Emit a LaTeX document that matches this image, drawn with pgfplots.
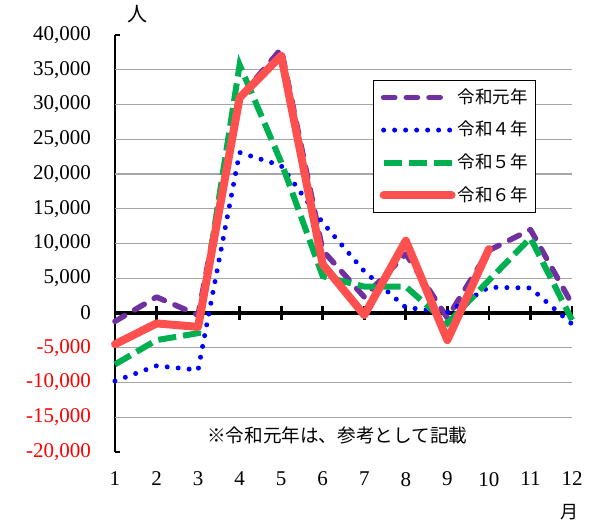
\documentclass[border=0pt]{standalone}
\usepackage{pgfplots}
\pgfplotsset{compat=1.18}
\usepackage{fontspec}
\setmainfont{Liberation Serif}
\newfontfamily\jp{Noto Sans CJK JP}
\definecolor{cpurple}{HTML}{7030A0}
\definecolor{cblue}{HTML}{0000FF}
\definecolor{cgreen}{HTML}{00B050}
\definecolor{cred}{HTML}{FF5050}
\definecolor{cgrid}{HTML}{A6A6A6}
\begin{document}
\begin{tikzpicture}
\path[use as bounding box] (-57.5pt,-38pt) rectangle (242.5pt,226pt);
\begin{axis}[
  at={(0,0)}, anchor=south west,
  scale only axis, width=228.5pt, height=208.5pt,
  xmin=1, xmax=12, ymin=-20000, ymax=40000,
  clip=false, no markers,
  scaled y ticks=false, scaled x ticks=false,
  axis lines*=left,
  axis line style={-, line width=0.6pt},
  x axis line style={draw=none},
  xtick={1,2,...,12},
  xticklabels={1,2,3,4,5,6,7,8,9,10,11,12},
  xtick style={draw=none},
  x tick label style={yshift=-6.5pt},
  ytick={-20000,-15000,-10000,-5000,0,5000,10000,15000,20000,25000,30000,35000,40000},
  yticklabels={\textcolor{red}{-20,000},\textcolor{red}{-15,000},\textcolor{red}{-10,000},\textcolor{red}{-5,000},0,{5,000},{10,000},{15,000},{20,000},{25,000},{30,000},{35,000},{40,000}},
  ytick align=inside,
  major tick length=2.5pt,
  ytick style={line width=0.6pt, black},
  y tick label style={xshift=-8.5pt},
  tick label style={font=\fontsize{10.5}{12}\selectfont},
  extra y ticks={-15000,-10000,-5000,5000,10000,15000,20000,25000,30000,35000},
  extra y tick labels={},
  extra y tick style={grid=major, major tick length=0pt},
  major grid style={cgrid, line width=0.6pt},
  legend cell align=left,
  legend style={at={(rel axis cs:0.5646,0.892)}, anchor=north west,
    draw=black, line width=0.6pt, inner sep=3pt, row sep=5.4pt,
    font=\jp\fontsize{8.75}{10}\selectfont,
    nodes={inner sep=1pt}},
  legend image code/.code={\draw[#1] (0pt,0pt) -- (34pt,0pt);},
]
\draw[black, line width=2pt] (axis cs:1,0) -- (axis cs:12,0);
\pgfplotsinvokeforeach{1,2,...,12}{
  \draw[black, line width=1.4pt] ([yshift=-3.3pt]axis cs:#1,0) -- ([yshift=3.3pt]axis cs:#1,0);
}
\addplot[cpurple, line width=2.75pt, line cap=round, line join=round, dash pattern=on 5.6pt off 5.75pt] coordinates {
(1,-1200) (2,2300) (3,-300) (4,31000) (5,38000) (6,9000) (7,2300) (8,8500) (9,-700) (10,9000) (11,12000) (12,1300)};
\addlegendentry{令和元年}
\addplot[cblue, line width=2.5pt, line cap=round, dash pattern=on 0pt off 5.5pt] coordinates {
(1,-9800) (2,-7600) (3,-8200) (4,23100) (5,21200) (6,13000) (7,6000) (8,800) (9,100) (10,3700) (11,3600) (12,-1600)};
\addlegendentry{令和４年}
\addplot[cgreen, line width=3pt, line cap=butt, dash pattern=on 9pt off 3.5pt] coordinates {
(1,-7400) (2,-3900) (3,-2900) (4,35700) (5,21700) (6,5300) (7,3800) (8,3800) (9,-1500) (10,4700) (11,10800) (12,-1000)};
\addlegendentry{令和５年}
\addplot[cred, line width=4pt, line cap=round, line join=round] coordinates {
(1,-4500) (2,-1500) (3,-2000) (4,31000) (5,37000) (6,7000) (7,-300) (8,10400) (9,-3900) (10,9200)};
\addlegendentry{令和６年}
\node[font=\jp\fontsize{10}{12}\selectfont] at (axis cs:1.55,43000) {人};
\node[font=\jp\fontsize{9}{11}\selectfont] at (axis cs:11.95,-28630) {月};
\node[font=\jp\fontsize{9.3}{11}\selectfont] at (axis cs:6.35,-17550) {※令和元年は、参考として記載};
\end{axis}
\end{tikzpicture}
\end{document}
